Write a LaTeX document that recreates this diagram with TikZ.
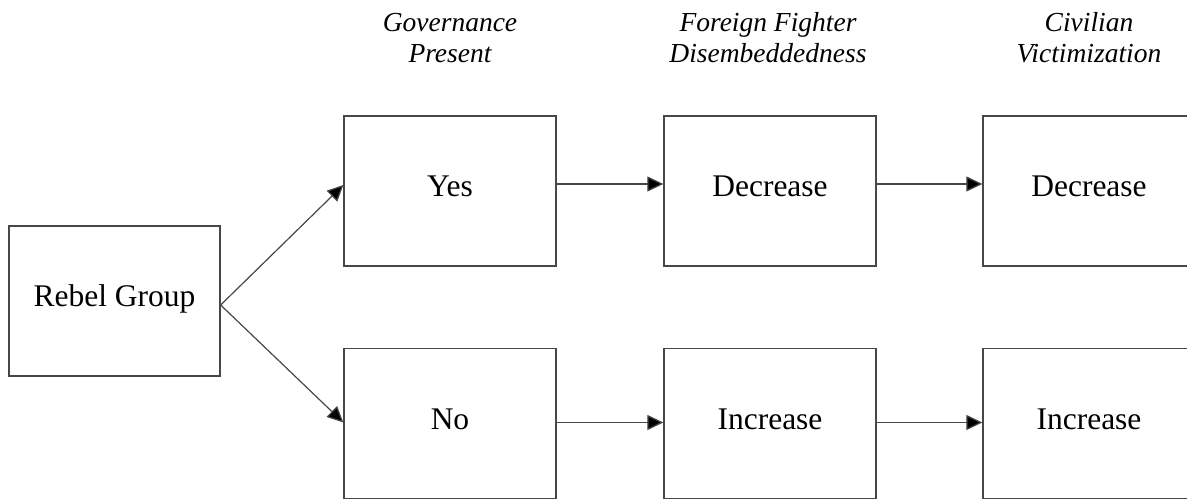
\documentclass[tikz,border=0pt]{standalone}
\usepackage{fontspec}
\setmainfont{Liberation Serif}
\usetikzlibrary{arrows.meta}
\tikzset{
  box/.style={draw=black!72, line width=1.3pt, minimum width=212pt, minimum height=150pt,
    inner sep=0pt, text height=22pt, text depth=11pt, font=\fontsize{31.5}{36}\selectfont},
  head/.style={inner sep=0pt, anchor=south, align=center, font=\fontsize{27.5}{31}\selectfont\itshape},
  conn/.style={draw=black!72, line width=1.2pt, -{Triangle[length=16pt,width=15pt,fill=black]}}
}
\begin{document}
\begin{tikzpicture}[x=1pt,y=-1pt]
\useasboundingbox (0,0) rectangle (1187,500);
\node[box, minimum width=211pt] (rebel) at (114.5,301) {Rebel Group};
\node[box] (yes) at (450,191) {Yes};
\node[box] (no) at (450,423.5) {No};
\node[box] (dec1) at (770,191) {Decrease};
\node[box] (inc1) at (770,423.5) {Increase};
\node[box] (dec2) at (1089,191) {Decrease};
\node[box] (inc2) at (1089,423.5) {Increase};
\node[head] (h1) at (450,63) {Governance\\Present};
\node[head] (h2) at (768,63) {Foreign Fighter\\Disembeddedness};
\node[head] (h3) at (1089,63) {Civilian\\Victimization};
\draw[conn] ([yshift=-4pt]rebel.east) -- ([yshift=6pt]yes.west);
\draw[conn] ([yshift=-4pt]rebel.east) -- ([yshift=1pt]no.west);
\draw[conn] ([yshift=7pt]yes.east) -- ([yshift=7pt]dec1.west);
\draw[conn] ([yshift=7pt]dec1.east) -- ([yshift=7pt]dec2.west);
\draw[conn] ([yshift=1pt]no.east) -- ([yshift=1pt]inc1.west);
\draw[conn] ([yshift=1pt]inc1.east) -- ([yshift=1pt]inc2.west);
\end{tikzpicture}
\end{document}
